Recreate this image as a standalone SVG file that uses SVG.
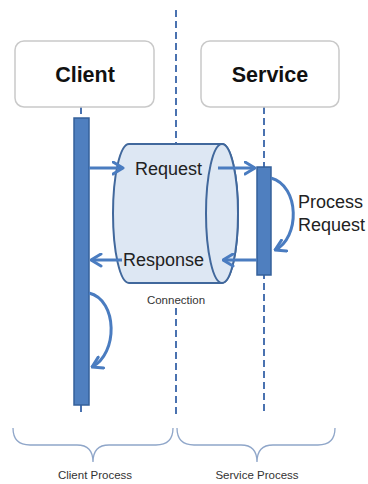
<svg xmlns="http://www.w3.org/2000/svg" width="368" height="484" viewBox="0 0 368 484">
<style>
.box{fill:#fff;stroke:#c9c9c9;stroke-width:1.5}
.title{font-family:"Liberation Sans",Arial,sans-serif;font-weight:bold;font-size:21.5px;fill:#111;text-anchor:middle}
.lbl{font-family:"Liberation Sans",Arial,sans-serif;font-size:18px;fill:#222}
.small{font-family:"Liberation Sans",Arial,sans-serif;font-size:11.5px;fill:#333;text-anchor:middle}
.dash{stroke:#4a72b0;stroke-width:2;stroke-dasharray:7 4;fill:none}
.bar{fill:#4f7fbf;stroke:#35609a;stroke-width:1.5}
.arr{stroke:#4a7cc0;stroke-width:3;fill:none;marker-end:url(#chev)}
.brace{stroke:#8fa6c9;stroke-width:1.3;fill:none}
</style>
<defs>
<marker id="chev" viewBox="0 0 13 15" refX="11.5" refY="7.5" markerWidth="13" markerHeight="15" markerUnits="userSpaceOnUse" orient="auto">
<path d="M1.5,1.5 L11.5,7.5 L1.5,13.5" fill="none" stroke="#4a7cc0" stroke-width="3" stroke-linecap="round" stroke-linejoin="round"/>
</marker>
</defs>
<g id="lifelines">
<line class="dash" x1="176" y1="10" x2="176" y2="144"/>
<line class="dash" x1="176" y1="308" x2="176" y2="418"/>
<line class="dash" x1="81" y1="107" x2="81" y2="118"/>
<line class="dash" x1="81" y1="405" x2="81" y2="413"/>
<line class="dash" x1="264" y1="107" x2="264" y2="412"/>
</g>
<g id="client">
<rect class="box" x="15" y="41" width="139" height="66" rx="9"/>
<text class="title" x="85" y="82">Client</text>
</g>
<g id="service">
<rect class="box" x="201" y="41" width="138" height="66" rx="9"/>
<text class="title" x="270" y="82">Service</text>
</g>
<g id="client-bar"><rect class="bar" x="74" y="118" width="15" height="287"/></g>
<g id="service-bar"><rect class="bar" x="257" y="167" width="14" height="108"/></g>
<g id="connection">
<path d="M129,144 L222,144 A16,69.5 0 0 1 222,283 L129,283 A16,69.5 0 0 1 129,144 Z" fill="#dde7f3" stroke="#41689c" stroke-width="2"/>
<ellipse cx="222" cy="213.5" rx="16" ry="69.5" fill="#dde7f3" stroke="#41689c" stroke-width="2"/>
<text class="small" x="176" y="304">Connection</text>
</g>
<g id="connectors">
<line class="arr" x1="89" y1="168" x2="123" y2="168"/>
<line class="arr" x1="218" y1="168" x2="255" y2="168"/>
<line class="arr" x1="257" y1="260" x2="223" y2="260"/>
<line class="arr" x1="122" y1="260" x2="91" y2="260"/>
<path class="arr" d="M271,178 C300,186 300,238 275,250"/>
<path class="arr" d="M89,293 C118,300 118,354 92,367"/>
</g>
<g id="labels">
<text class="lbl" x="135" y="175">Request</text>
<text class="lbl" x="123" y="266">Response</text>
<text class="lbl" x="298" y="208">Process</text>
<text class="lbl" x="298" y="231">Request</text>
</g>
<g id="braces">
<path class="brace" d="M13,428 Q13,445 30,445 L77,445 Q93,445 93,462 Q93,445 109,445 L156,445 Q173,445 173,428"/>
<path class="brace" d="M177,428 Q177,445 194,445 L241,445 Q257,445 257,462 Q257,445 273,445 L318,445 Q335,445 335,428"/>
<text class="small" x="95" y="479">Client Process</text>
<text class="small" x="257" y="479">Service Process</text>
</g>
</svg>
